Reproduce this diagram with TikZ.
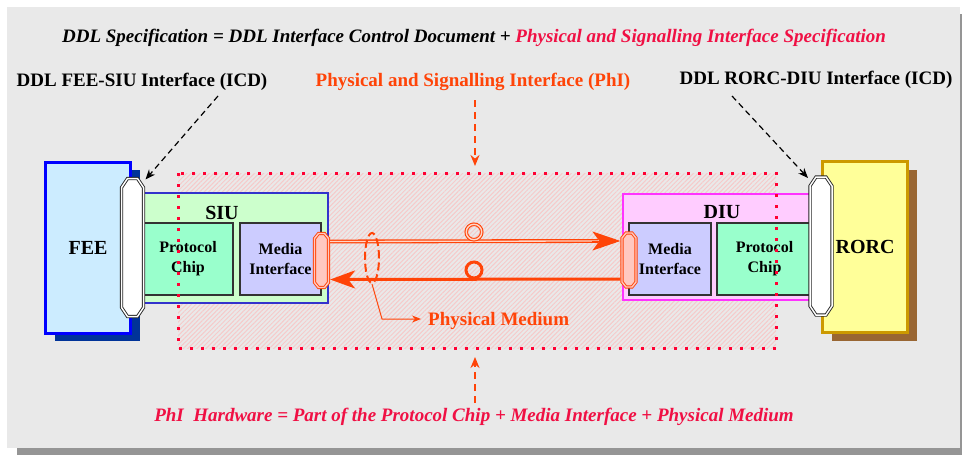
\documentclass[tikz,border=0pt]{standalone}
\usepackage{fontspec}
\setmainfont{Liberation Serif}
\usetikzlibrary{shapes.geometric,arrows.meta,patterns.meta,shadows,calc}

\definecolor{panelgray}{RGB}{233,233,233}
\definecolor{panelshadow}{RGB}{149,149,149}
\definecolor{phiorange}{RGB}{255,68,8}
\definecolor{crimson}{RGB}{240,16,68}
\definecolor{dotred}{RGB}{255,0,51}
\definecolor{hatchpink}{RGB}{246,202,202}
\definecolor{feefill}{RGB}{204,236,255}
\definecolor{feeedge}{RGB}{0,0,255}
\definecolor{feeshadow}{RGB}{0,51,153}
\definecolor{siufill}{RGB}{204,255,204}
\definecolor{siuedge}{RGB}{51,51,204}
\definecolor{diufill}{RGB}{255,204,255}
\definecolor{diuedge}{RGB}{255,51,255}
\definecolor{chipfill}{RGB}{153,255,204}
\definecolor{mediafill}{RGB}{204,204,255}
\definecolor{boxedge}{RGB}{51,51,51}
\definecolor{rorcfill}{RGB}{255,255,153}
\definecolor{rorcedge}{RGB}{204,153,0}
\definecolor{rorcshadow}{RGB}{153,102,51}
\definecolor{pillpink}{RGB}{255,200,192}
\definecolor{linkpale}{RGB}{255,214,200}

\tikzset{
  lbl/.style={inner sep=0pt, font=\fontsize{19pt}{22pt}\selectfont\bfseries},
  unitname/.style={inner sep=0pt, font=\fontsize{20pt}{24pt}\selectfont\bfseries},
  endbox/.style={rectangle, inner sep=0pt, line width=3pt, minimum width=85pt,
    minimum height=171pt, font=\fontsize{20pt}{24pt}\selectfont\bfseries},
  unitbox/.style={rectangle, inner sep=0pt, line width=2.5pt},
  chipbox/.style={rectangle, draw=boxedge, line width=1.2pt, inner sep=0pt,
    align=center, minimum height=72pt, font=\fontsize{16pt}{20pt}\selectfont\bfseries},
  anchorbox/.style={rectangle, inner sep=0pt, outer sep=0pt},
  wpill/.style={draw=black!85, line width=0.9pt, double=white,
    double distance=1.5pt, fill=white},
  opill/.style={draw=phiorange, line width=0.9pt, double=pillpink,
    double distance=1.4pt, fill=pillpink},
  callout/.style={draw=black, line width=1.2pt, dash pattern=on 6pt off 4pt,
    -{Stealth[length=10pt,width=8pt]}},
  phicallout/.style={draw=phiorange, line width=2pt, dash pattern=on 7pt off 5pt,
    -{Stealth[length=11pt,width=9pt]}},
}

% chamfered outline round a named node: #1 style, #2 node, #3 x chamfer, #4 y chamfer
\newcommand\pilloutline[4]{%
  \draw[#1] ($(#2.north west)+(0,#4)$) -- ($(#2.north west)+(#3,0)$)
    -- ($(#2.north east)+(-#3,0)$) -- ($(#2.north east)+(0,#4)$)
    -- ($(#2.south east)+(0,-#4)$) -- ($(#2.south east)+(-#3,0)$)
    -- ($(#2.south west)+(#3,0)$) -- ($(#2.south west)+(0,-#4)$) -- cycle;}

\begin{document}
\begin{tikzpicture}[x=1pt,y=-1pt]
\useasboundingbox (0,0) rectangle (962,455);

% panel with its drop shadow
\fill[panelshadow] (17,14) rectangle (962,455);
\fill[panelgray] (7,7) rectangle (960,448);

% headings
\node[inner sep=0pt, font=\fontsize{19pt}{22pt}\selectfont\bfseries\itshape] (spec) at (474,38)
  {DDL Specification = DDL Interface Control Document + \textcolor{crimson}{Physical and Signalling Interface Specification}};
\node[lbl] (icdleft) at (142,82) {DDL FEE-SIU Interface (ICD)};
\node[lbl, text=phiorange] (philbl) at (473,82) {Physical and Signalling Interface (PhI)};
\node[lbl] (icdright) at (816,80) {DDL RORC-DIU Interface (ICD)};

% PhI region: hatched area
\path[pattern={Lines[angle=45,distance=3.2pt,line width=1pt]}, pattern color=hatchpink]
  (178,173) rectangle (776,348);

% FEE side
\node[endbox, draw=feeedge, fill=feefill,
  general shadow={fill=feeshadow, shadow xshift=9pt, shadow yshift=-8pt}] (fee) at (88,247.5) {FEE};
\node[unitbox, draw=siuedge, fill=siufill, minimum width=191pt, minimum height=110pt] (siu) at (232.5,248) {};
\node[unitname] (siulbl) at (222,213) {SIU};
\node[chipbox, fill=chipfill, minimum width=90pt] (pchipl) at (188,259) {Protocol\\Chip};
\node[chipbox, fill=mediafill, minimum width=81pt] (medial) at (280.5,259) {Media\\Interface};

% RORC side
\node[endbox, draw=rorcedge, fill=rorcfill,
  general shadow={fill=rorcshadow, shadow xshift=9pt, shadow yshift=-9pt}] (rorc) at (865,246.5) {RORC};
\node[unitbox, draw=diuedge, fill=diufill, minimum width=192pt, minimum height=106pt] (diu) at (719,247) {};
\node[unitname] (diulbl) at (722,212) {DIU};
\node[chipbox, fill=mediafill, minimum width=82pt] (mediar) at (670,259) {Media\\Interface};
\node[chipbox, fill=chipfill, minimum width=95pt] (pchipr) at (764.5,259) {Protocol\\Chip};

% PhI region: dotted border
\draw[dotred, line width=3pt, dash pattern=on 3pt off 8pt] (178,173) rectangle (776,348);

% connectors
\node[anchorbox, minimum width=22pt, minimum height=138pt] (feeconn) at (132.5,247.5) {};
\node[anchorbox, minimum width=22pt, minimum height=138pt] (rorcconn) at (821,246) {};
\node[anchorbox, minimum width=14pt, minimum height=54pt] (lop) at (321.5,260.5) {};
\node[anchorbox, minimum width=14pt, minimum height=54pt] (rop) at (629,260) {};
\pilloutline{wpill}{feeconn}{6}{9}
\pilloutline{wpill}{rorcconn}{6}{9}
\pilloutline{opill}{lop}{4}{5}
\pilloutline{opill}{rop}{4}{5}

% physical medium: two links
\draw[phiorange, line width=1.3pt, double=linkpale, double distance=1.3pt]
  ($(lop.east)+(1.6,-19)$) -- ($(rop.west)+(-24,-19)$);
\draw[phiorange, line width=1pt, -{Stealth[length=28pt,width=19pt,inset=7pt]}]
  ($(rop.west)+(-30,-19)$) -- ($(rop.west)+(-1.6,-19)$);
\draw[phiorange, line width=3pt, -{Stealth[length=25pt,width=18pt,inset=7pt]}]
  ($(rop.west)+(-1.6,19)$) -- ($(lop.east)+(1.6,19)$);
\node[circle, draw=phiorange, line width=1.1pt, double=linkpale, double distance=1.4pt,
  minimum size=15.5pt, inner sep=0pt] (ringtop) at (474,232) {};
\node[circle, draw=phiorange, line width=3pt, minimum size=16pt, inner sep=0pt] (ringbot) at (474,270) {};
\node[ellipse, draw=phiorange, line width=2pt, dash pattern=on 8pt off 4pt,
  minimum width=14pt, minimum height=50pt, inner sep=0pt] (medium) at (372,258) {};
\node[lbl, text=phiorange, anchor=west, inner sep=0pt] (mediumlbl) at (428,321) {Physical Medium};
\draw[phiorange, line width=1pt, -{Stealth[length=9pt,width=7pt]}]
  (medium.south) -- (382,319) -- (421,319);

% callouts
\coordinate (icdltail) at (218,96);
\coordinate (icdrtail) at (732,96);
\draw[callout] (icdltail) -- ([xshift=2pt,yshift=-1pt]feeconn.north east);
\draw[callout] (icdrtail) -- ([xshift=-2pt,yshift=-1pt]rorcconn.north west);
\coordinate (phitop) at (475,100);
\coordinate (phibot) at (475,403);
\draw[phicallout] (phitop) -- (475,166);
\draw[phicallout] (phibot) -- (475,357);

% PhI hardware line
\node[inner sep=0pt, text=crimson, font=\fontsize{19pt}{22pt}\selectfont\bfseries\itshape] (hw) at (474,417)
  {PhI\ \ Hardware = Part of the Protocol Chip + Media Interface + Physical Medium};
\end{tikzpicture}
\end{document}
